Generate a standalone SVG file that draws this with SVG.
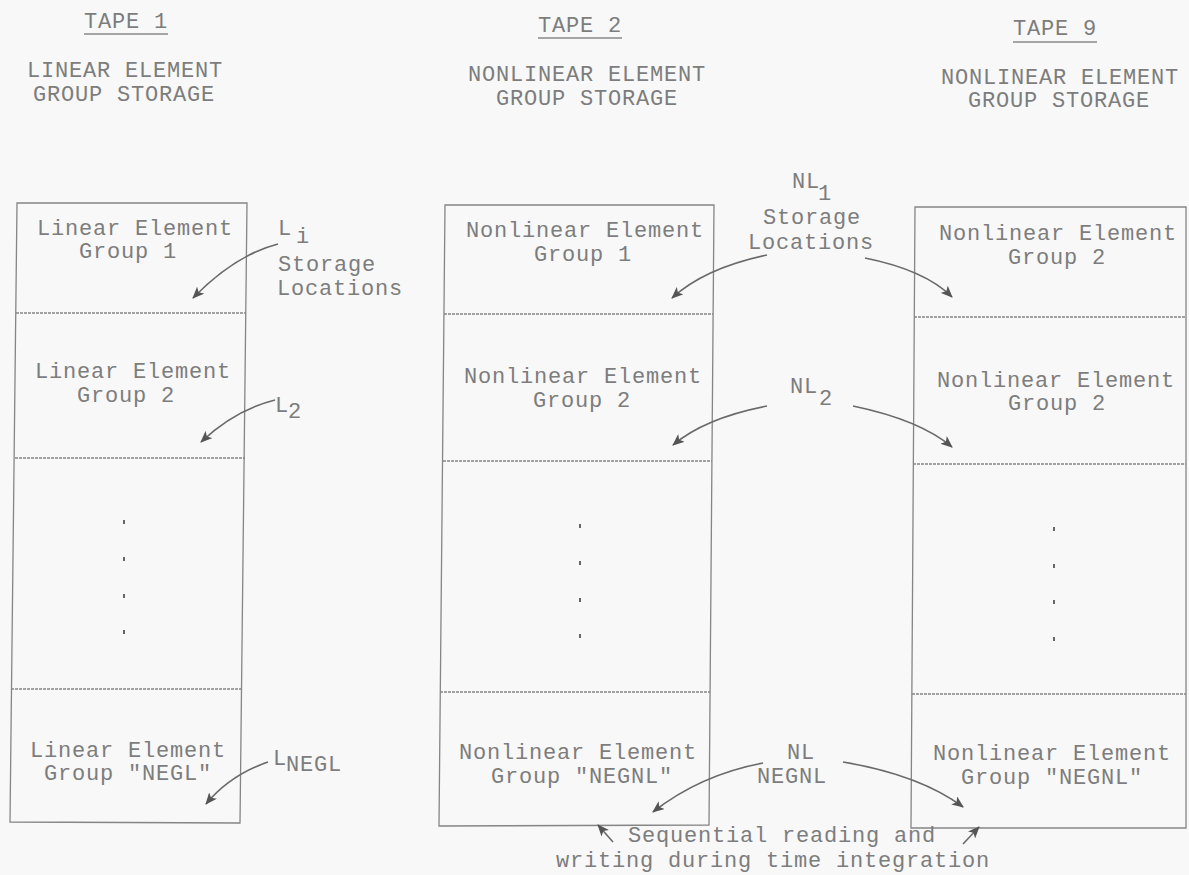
<svg xmlns="http://www.w3.org/2000/svg" width="1189" height="875" viewBox="0 0 1189 875">
<defs>
<style>
.t{font-family:"Liberation Mono","DejaVu Sans Mono",monospace;font-size:22px;fill:#7d7d7d;letter-spacing:0.8px}
.m{text-anchor:middle}
.box{fill:none;stroke:#858585;stroke-width:1.3}
.div{stroke:#858585;stroke-width:1.5;stroke-dasharray:3 1}
.ul{stroke:#8a8a8a;stroke-width:1.3}
.arr{fill:none;stroke:#6a6a6a;stroke-width:1.6;marker-end:url(#ah)}
.dot{fill:#666}
</style>
<marker id="ah" viewBox="0 0 12 10" refX="11" refY="5" markerWidth="12" markerHeight="10" markerUnits="userSpaceOnUse" orient="auto">
<path d="M0,0 L12,5 L0,10 L3,5 Z" fill="#555"/>
</marker>
</defs>
<rect width="1189" height="875" fill="#f8f8f8"/>

<g id="header-tape1">
<text class="t m" x="126" y="28">TAPE 1</text>
<line class="ul" x1="84" y1="34" x2="168" y2="34"/>
<text class="t m" x="125" y="77">LINEAR ELEMENT</text>
<text class="t m" x="124" y="101">GROUP STORAGE</text>
</g>
<g id="header-tape2">
<text class="t m" x="580" y="32">TAPE 2</text>
<line class="ul" x1="538" y1="38" x2="622" y2="38"/>
<text class="t m" x="587" y="81">NONLINEAR ELEMENT</text>
<text class="t m" x="587" y="105">GROUP STORAGE</text>
</g>
<g id="header-tape9">
<text class="t m" x="1055" y="35">TAPE 9</text>
<line class="ul" x1="1013" y1="42" x2="1097" y2="42"/>
<text class="t m" x="1060" y="84">NONLINEAR ELEMENT</text>
<text class="t m" x="1059" y="107">GROUP STORAGE</text>
</g>

<g id="tape1-storage">
<path class="box" d="M17,203 L247,203 L240,823 L10,822 Z"/>
<line class="div" x1="16" y1="313" x2="246" y2="313"/>
<line class="div" x1="15" y1="458" x2="245" y2="458"/>
<line class="div" x1="11" y1="689" x2="242" y2="689"/>
<g id="t1-group1">
<text class="t m" x="135" y="235">Linear Element</text>
<text class="t m" x="128" y="258">Group 1</text>
</g>
<g id="t1-group2">
<text class="t m" x="133" y="378">Linear Element</text>
<text class="t m" x="126" y="402">Group 2</text>
</g>
<g id="t1-dots">
<rect class="dot" x="123" y="520" width="2" height="4"/>
<rect class="dot" x="123" y="557" width="2" height="4"/>
<rect class="dot" x="123" y="594" width="2" height="4"/>
<rect class="dot" x="123" y="630" width="2" height="4"/>
</g>
<g id="t1-groupNEGL">
<text class="t m" x="128" y="757">Linear Element</text>
<text class="t m" x="128" y="780">Group "NEGL"</text>
</g>
</g>

<g id="tape2-storage">
<path class="box" d="M445,205 L714,205 L709,825 L439,826 Z"/>
<line class="div" x1="444" y1="314" x2="713" y2="314"/>
<line class="div" x1="443" y1="461" x2="712" y2="461"/>
<line class="div" x1="440" y1="692" x2="710" y2="692"/>
<g id="t2-group1">
<text class="t m" x="585" y="237">Nonlinear Element</text>
<text class="t m" x="583" y="261">Group 1</text>
</g>
<g id="t2-group2">
<text class="t m" x="583" y="383">Nonlinear Element</text>
<text class="t m" x="582" y="407">Group 2</text>
</g>
<g id="t2-dots">
<rect class="dot" x="579" y="524" width="2" height="4"/>
<rect class="dot" x="579" y="561" width="2" height="4"/>
<rect class="dot" x="579" y="598" width="2" height="4"/>
<rect class="dot" x="579" y="634" width="2" height="4"/>
</g>
<g id="t2-groupNEGNL">
<text class="t m" x="578" y="759">Nonlinear Element</text>
<text class="t m" x="582" y="783">Group "NEGNL"</text>
</g>
</g>

<g id="tape9-storage">
<path class="box" d="M915,207 L1186,207 L1186,828 L911,828 Z"/>
<line class="div" x1="914" y1="317" x2="1186" y2="317"/>
<line class="div" x1="913" y1="464" x2="1186" y2="464"/>
<line class="div" x1="912" y1="694" x2="1186" y2="694"/>
<g id="t9-group2a">
<text class="t m" x="1058" y="240">Nonlinear Element</text>
<text class="t m" x="1057" y="264">Group 2</text>
</g>
<g id="t9-group2b">
<text class="t m" x="1056" y="387">Nonlinear Element</text>
<text class="t m" x="1057" y="410">Group 2</text>
</g>
<g id="t9-dots">
<rect class="dot" x="1053" y="527" width="2" height="4"/>
<rect class="dot" x="1053" y="564" width="2" height="4"/>
<rect class="dot" x="1053" y="600" width="2" height="4"/>
<rect class="dot" x="1053" y="637" width="2" height="4"/>
</g>
<g id="t9-groupNEGNL">
<text class="t m" x="1052" y="760">Nonlinear Element</text>
<text class="t m" x="1052" y="784">Group "NEGNL"</text>
</g>
</g>

<g id="connectors">
<path class="arr" d="M278,244 Q235,255 193,298"/>
<path class="arr" d="M275,400 Q235,410 201,442"/>
<path class="arr" d="M268,762 Q230,775 206,804"/>
<path class="arr" d="M767,255 Q705,268 672,298"/>
<path class="arr" d="M865,258 Q925,270 952,297"/>
<path class="arr" d="M767,406 Q705,418 673,445"/>
<path class="arr" d="M853,406 Q920,420 952,447"/>
<path class="arr" d="M763,763 Q700,775 653,812"/>
<path class="arr" d="M843,762 Q920,775 963,807"/>
<path class="arr" d="M613,842 L598,825"/>
<path class="arr" d="M963,844 L979,827"/>
</g>

<g id="labels">
<g id="label-Li">
<text class="t" x="278" y="235">L</text>
<text class="t" x="296" y="243">i</text>
<text class="t" x="278" y="271">Storage</text>
<text class="t" x="277" y="295">Locations</text>
</g>
<g id="label-L2">
<text class="t" x="275" y="412">L</text>
<text class="t" x="288" y="418">2</text>
</g>
<g id="label-LNEGL">
<text class="t" x="273" y="765">L</text>
<text class="t" x="286" y="771">NEGL</text>
</g>
<g id="label-NL1">
<text class="t" x="792" y="188">NL</text>
<text class="t" x="818" y="200">1</text>
<text class="t" x="763" y="224">Storage</text>
<text class="t" x="748" y="249">Locations</text>
</g>
<g id="label-NL2">
<text class="t" x="790" y="393">NL</text>
<text class="t" x="819" y="405">2</text>
</g>
<g id="label-NLNEGNL">
<text class="t" x="787" y="759">NL</text>
<text class="t" x="757" y="783">NEGNL</text>
</g>
<g id="label-sequential">
<text class="t" x="628" y="842">Sequential reading and</text>
<text class="t" x="556" y="867">writing during time integration</text>
</g>
</g>
</svg>
